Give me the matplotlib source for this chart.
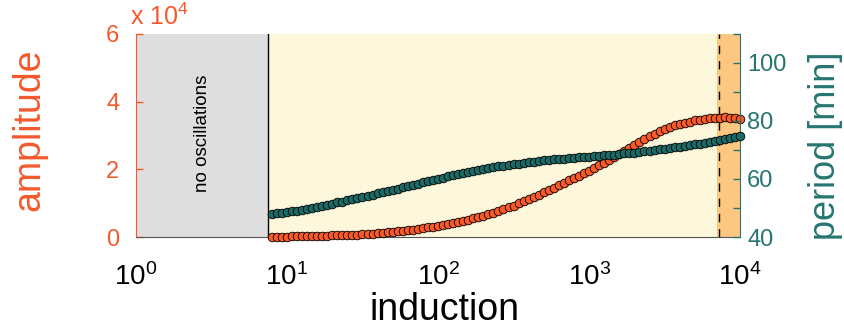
import matplotlib
matplotlib.use("Agg")
import matplotlib.pyplot as plt
from matplotlib.ticker import FixedLocator, NullLocator

plt.rcParams['font.family'] = ['Liberation Sans', 'DejaVu Sans']
plt.rcParams['mathtext.default'] = 'regular'

# induction grid (points where oscillations are found)
induction = [7.943, 8.577, 9.261,
             10.0, 10.80, 11.66, 12.59, 13.59, 14.68, 15.85, 17.11, 18.48, 19.95,
             21.54, 23.26, 25.12, 27.12, 29.29, 31.62, 34.15, 36.87, 39.81, 42.99,
             46.42, 50.12, 54.12, 58.43, 63.10, 68.13, 73.56, 79.43, 85.77, 92.61,
             100, 108.0, 116.6, 125.9, 135.9, 146.8, 158.5, 171.1, 184.8, 199.5,
             215.4, 232.6, 251.2, 271.2, 292.9, 316.2, 341.5, 368.7, 398.1, 429.9,
             464.2, 501.2, 541.2, 584.3, 631.0, 681.3, 735.6, 794.3, 857.7, 926.1,
             1000, 1080, 1166, 1259, 1359, 1468, 1585, 1711, 1848, 1995,
             2154, 2326, 2512, 2712, 2929, 3162, 3415, 3687, 3981, 4299,
             4642, 5012, 5412, 5843, 6310, 6813, 7356, 7943, 8577, 9261, 10000]

# amplitude in units of 1e4
amplitude = [0.010, 0.012, 0.013,
             0.015, 0.017, 0.020, 0.022, 0.025, 0.028, 0.032, 0.036, 0.040,
             0.045, 0.050, 0.055, 0.060, 0.066, 0.073, 0.080, 0.089, 0.099,
             0.110, 0.123, 0.136, 0.150, 0.166, 0.183, 0.200, 0.219, 0.239,
             0.260, 0.283, 0.306, 0.330, 0.356, 0.383, 0.410, 0.442, 0.476,
             0.510, 0.549, 0.589, 0.630, 0.676, 0.723, 0.770, 0.823, 0.876,
             0.930, 0.993, 1.057, 1.120, 1.187, 1.253, 1.320, 1.390, 1.460,
             1.530, 1.600, 1.670, 1.740, 1.813, 1.887, 1.960, 2.037, 2.113,
             2.190, 2.273, 2.357, 2.440, 2.533, 2.627, 2.720, 2.807, 2.893,
             2.980, 3.053, 3.127, 3.200, 3.250, 3.300, 3.350, 3.380, 3.410,
             3.440, 3.460, 3.480, 3.500, 3.510, 3.520, 3.530, 3.520, 3.505, 3.490]

# period in minutes
period = [48.0, 48.2, 48.4,
          48.6, 48.9, 49.1, 49.4, 49.7, 50.1, 50.4, 50.8, 51.1,
          51.5, 51.9, 52.2, 52.6, 53.0, 53.4, 53.8, 54.2, 54.6,
          55.0, 55.4, 55.9, 56.3, 56.7, 57.2, 57.6, 58.0, 58.4,
          58.8, 59.2, 59.6, 60.0, 60.4, 60.9, 61.3, 61.7, 62.1,
          62.5, 62.8, 63.2, 63.5, 63.8, 64.1, 64.4, 64.6, 64.9,
          65.1, 65.3, 65.6, 65.8, 66.0, 66.2, 66.4, 66.6, 66.7,
          66.9, 67.0, 67.2, 67.3, 67.4, 67.6, 67.7, 67.8, 68.0,
          68.1, 68.3, 68.4, 68.6, 68.8, 68.9, 69.1, 69.3, 69.5,
          69.7, 69.9, 70.2, 70.4, 70.6, 70.9, 71.1, 71.4, 71.6,
          71.9, 72.2, 72.5, 72.8, 73.1, 73.5, 73.8, 74.2, 74.5, 74.9]

no_osc_end = 7.5
high_start = 7000
dashed_at = 7250

amp_color = '#F4592D'
per_color = '#267570'
amp_marker = '#F95A28'
per_marker = '#1C6A65'

fig = plt.figure(figsize=(8.44, 3.28), dpi=100)
ax = fig.add_axes([0.161, 0.2774, 0.716, 0.6196])
ax.set_xscale('log')
ax.set_xlim(1, 1e4)
ax.set_ylim(0, 6)

ax.axvspan(1, no_osc_end, color='#DEDEDE', lw=0, zorder=0)
ax.axvspan(no_osc_end, high_start, color='#FDF7DC', lw=0, zorder=0)
ax.axvspan(high_start, 1e4, color='#FDC681', lw=0, zorder=0)
ax.axvline(no_osc_end, color='black', lw=1.0, zorder=1)
ax.axvline(dashed_at, color='black', lw=1.0, ls=(0, (6, 5)), zorder=1)

ax.text(2.75, 3.05, 'no oscillations', rotation=90, ha='center', va='center',
        fontsize=13.5, color='black')

ax.plot(induction, amplitude, 'o', ms=6.2, mfc=amp_marker, mec='black',
        mew=0.6, zorder=3, clip_on=False)

ax.set_yticks([0, 2, 4, 6])
ax.set_yticklabels(['0', '2', '4', '6'])
ax.yaxis.set_minor_locator(NullLocator())
ax.tick_params(axis='y', colors=amp_color, labelsize=17, direction='in',
               length=5, width=1, pad=12)
ax.xaxis.set_major_locator(FixedLocator([1, 10, 100, 1000, 10000]))
ax.xaxis.set_minor_locator(NullLocator())
ax.tick_params(axis='x', labelsize=20, direction='in', length=0, pad=19)
ax.set_xlabel('induction', fontsize=27)
ax.xaxis.set_label_coords(0.51, -0.27)
ax.set_ylabel('amplitude', fontsize=27, color=amp_color)
ax.yaxis.set_label_coords(-0.147, 0.53)
ax.text(-0.01, 1.045, r'x $10^{4}$', transform=ax.transAxes, fontsize=18,
        color=amp_color, ha='left', va='baseline')

ax.spines['top'].set_visible(False)
ax.spines['right'].set_visible(False)
ax.spines['left'].set_color(amp_color)
ax.spines['bottom'].set_color('#555555')

ax2 = ax.twinx()
ax2.set_ylim(40, 110)
ax2.plot(induction, period, 'o', ms=6.2, mfc=per_marker, mec='black',
         mew=0.6, zorder=3, clip_on=False)
ax2.set_yticks([40, 50, 60, 70, 80, 90, 100, 110])
ax2.set_yticklabels(['40', '', '60', '', '80', '', '100', ''])
ax2.tick_params(axis='y', colors=per_color, labelsize=17, direction='in',
                length=5, width=1, pad=5)
ax2.set_ylabel('period [min]', fontsize=26, color=per_color)
ax2.yaxis.set_label_coords(1.113, 0.45)
ax2.spines['top'].set_visible(False)
ax2.spines['left'].set_visible(False)
ax2.spines['bottom'].set_visible(False)
ax2.spines['right'].set_color(per_color)

fig.savefig('out.png', dpi=100)
